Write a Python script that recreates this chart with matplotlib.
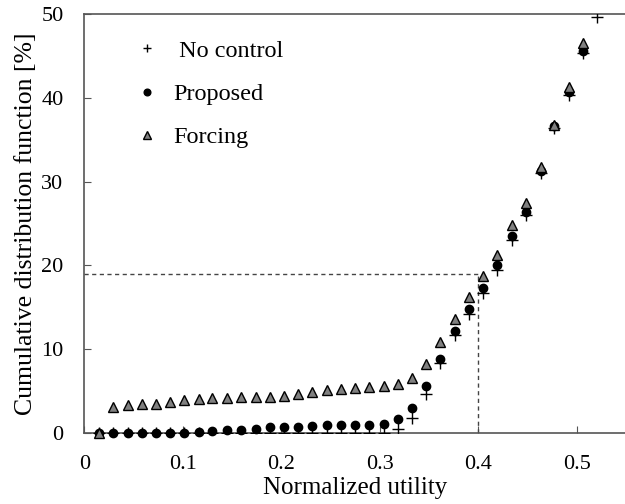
import matplotlib
matplotlib.use("Agg")
import matplotlib.pyplot as plt

plt.rcParams['font.family'] = ['Liberation Serif', 'DejaVu Serif']

# normalized utility (x) for each sample point
utility = [0.015, 0.029, 0.044, 0.058, 0.073, 0.087, 0.101, 0.116, 0.130, 0.145,
           0.159, 0.174, 0.188, 0.203, 0.217, 0.231, 0.246, 0.260, 0.275, 0.289,
           0.304, 0.318, 0.333, 0.347, 0.361, 0.376, 0.390, 0.405, 0.419, 0.434,
           0.448, 0.463, 0.477, 0.492, 0.506, 0.520]

no_control = [0, 0, 0, 0, 0, 0, 0, 0, 0, 0,
              0, 0, 0, 0, 0, 0, 0, 0, 0, 0,
              0, 0.45, 1.8, 4.7, 8.3, 11.7, 14.15, 16.7, 19.4, 23.0,
              26.0, 31.0, 36.4, 40.3, 45.3, 49.7]

proposed = [0, 0, 0, 0, 0, 0, 0, 0.1, 0.25, 0.3,
            0.36, 0.52, 0.68, 0.75, 0.76, 0.84, 0.9, 0.95, 0.95, 0.95,
            1.04, 1.62, 3.0, 5.55, 8.85, 12.2, 14.8, 17.3, 20.0, 23.5,
            26.4, 31.3, 36.6, 40.7, 45.6]

forcing = [0, 3.1, 3.3, 3.4, 3.5, 3.65, 3.9, 4.1, 4.2, 4.2,
           4.25, 4.3, 4.33, 4.35, 4.65, 4.93, 5.13, 5.23, 5.33, 5.45,
           5.6, 5.82, 6.55, 8.25, 10.85, 13.65, 16.2, 18.7, 21.2, 24.8,
           27.4, 31.8, 36.8, 41.25, 46.5]

ref_x = 0.4
ref_y = 19

fig = plt.figure(figsize=(6.25, 5.04), dpi=100)
ax = fig.add_axes([0.135, 0.141, 0.867, 0.831])

ax.plot([0, ref_x], [ref_y, ref_y], color='#444444', ls=(0, (3, 2.5)), lw=1)
ax.plot([ref_x, ref_x], [0, ref_y], color='#444444', ls=(0, (3, 2.5)), lw=1)

ax.plot(utility, no_control, ls='none', marker='+', ms=8, mew=1,
        color='black', label=' No control', zorder=3)
ax.plot(utility[:len(proposed)], proposed, ls='none', marker='o', ms=6,
        color='black', label='Proposed', clip_on=False, zorder=4)
ax.plot(utility[:len(forcing)], forcing, ls='none', marker='^', ms=7.5,
        mfc='#808080', mec='black', mew=1, label='Forcing', clip_on=False, zorder=5)

ax.set_xlim(0, 0.55)
ax.set_ylim(0, 50)
ax.set_xticks([0, 0.1, 0.2, 0.3, 0.4, 0.5])
ax.set_xticklabels(['0', '0.1', '0.2', '0.3', '0.4', '0.5'])
ax.set_yticks([0, 10, 20, 30, 40, 50])

ax.spines['right'].set_visible(False)
for s in ['left', 'top', 'bottom']:
    ax.spines[s].set_color('#555555')
    ax.spines[s].set_linewidth(1.2)
ax.tick_params(direction='in', length=5, color='#555555', labelsize=16)
ax.tick_params(axis='x', pad=16)
ax.tick_params(axis='y', pad=15)

ax.set_xlabel('Normalized utility', fontsize=18, labelpad=2)
ax.set_ylabel('Cumulative distribution function [%]', fontsize=18.5, labelpad=3)

ax.legend(loc='upper left', bbox_to_anchor=(0.07, 0.968), frameon=False,
          fontsize=17.5, handlelength=1, handletextpad=0.6, labelspacing=0.88,
          borderpad=0, markerscale=0.8)

fig.savefig('out.png', dpi=100)
